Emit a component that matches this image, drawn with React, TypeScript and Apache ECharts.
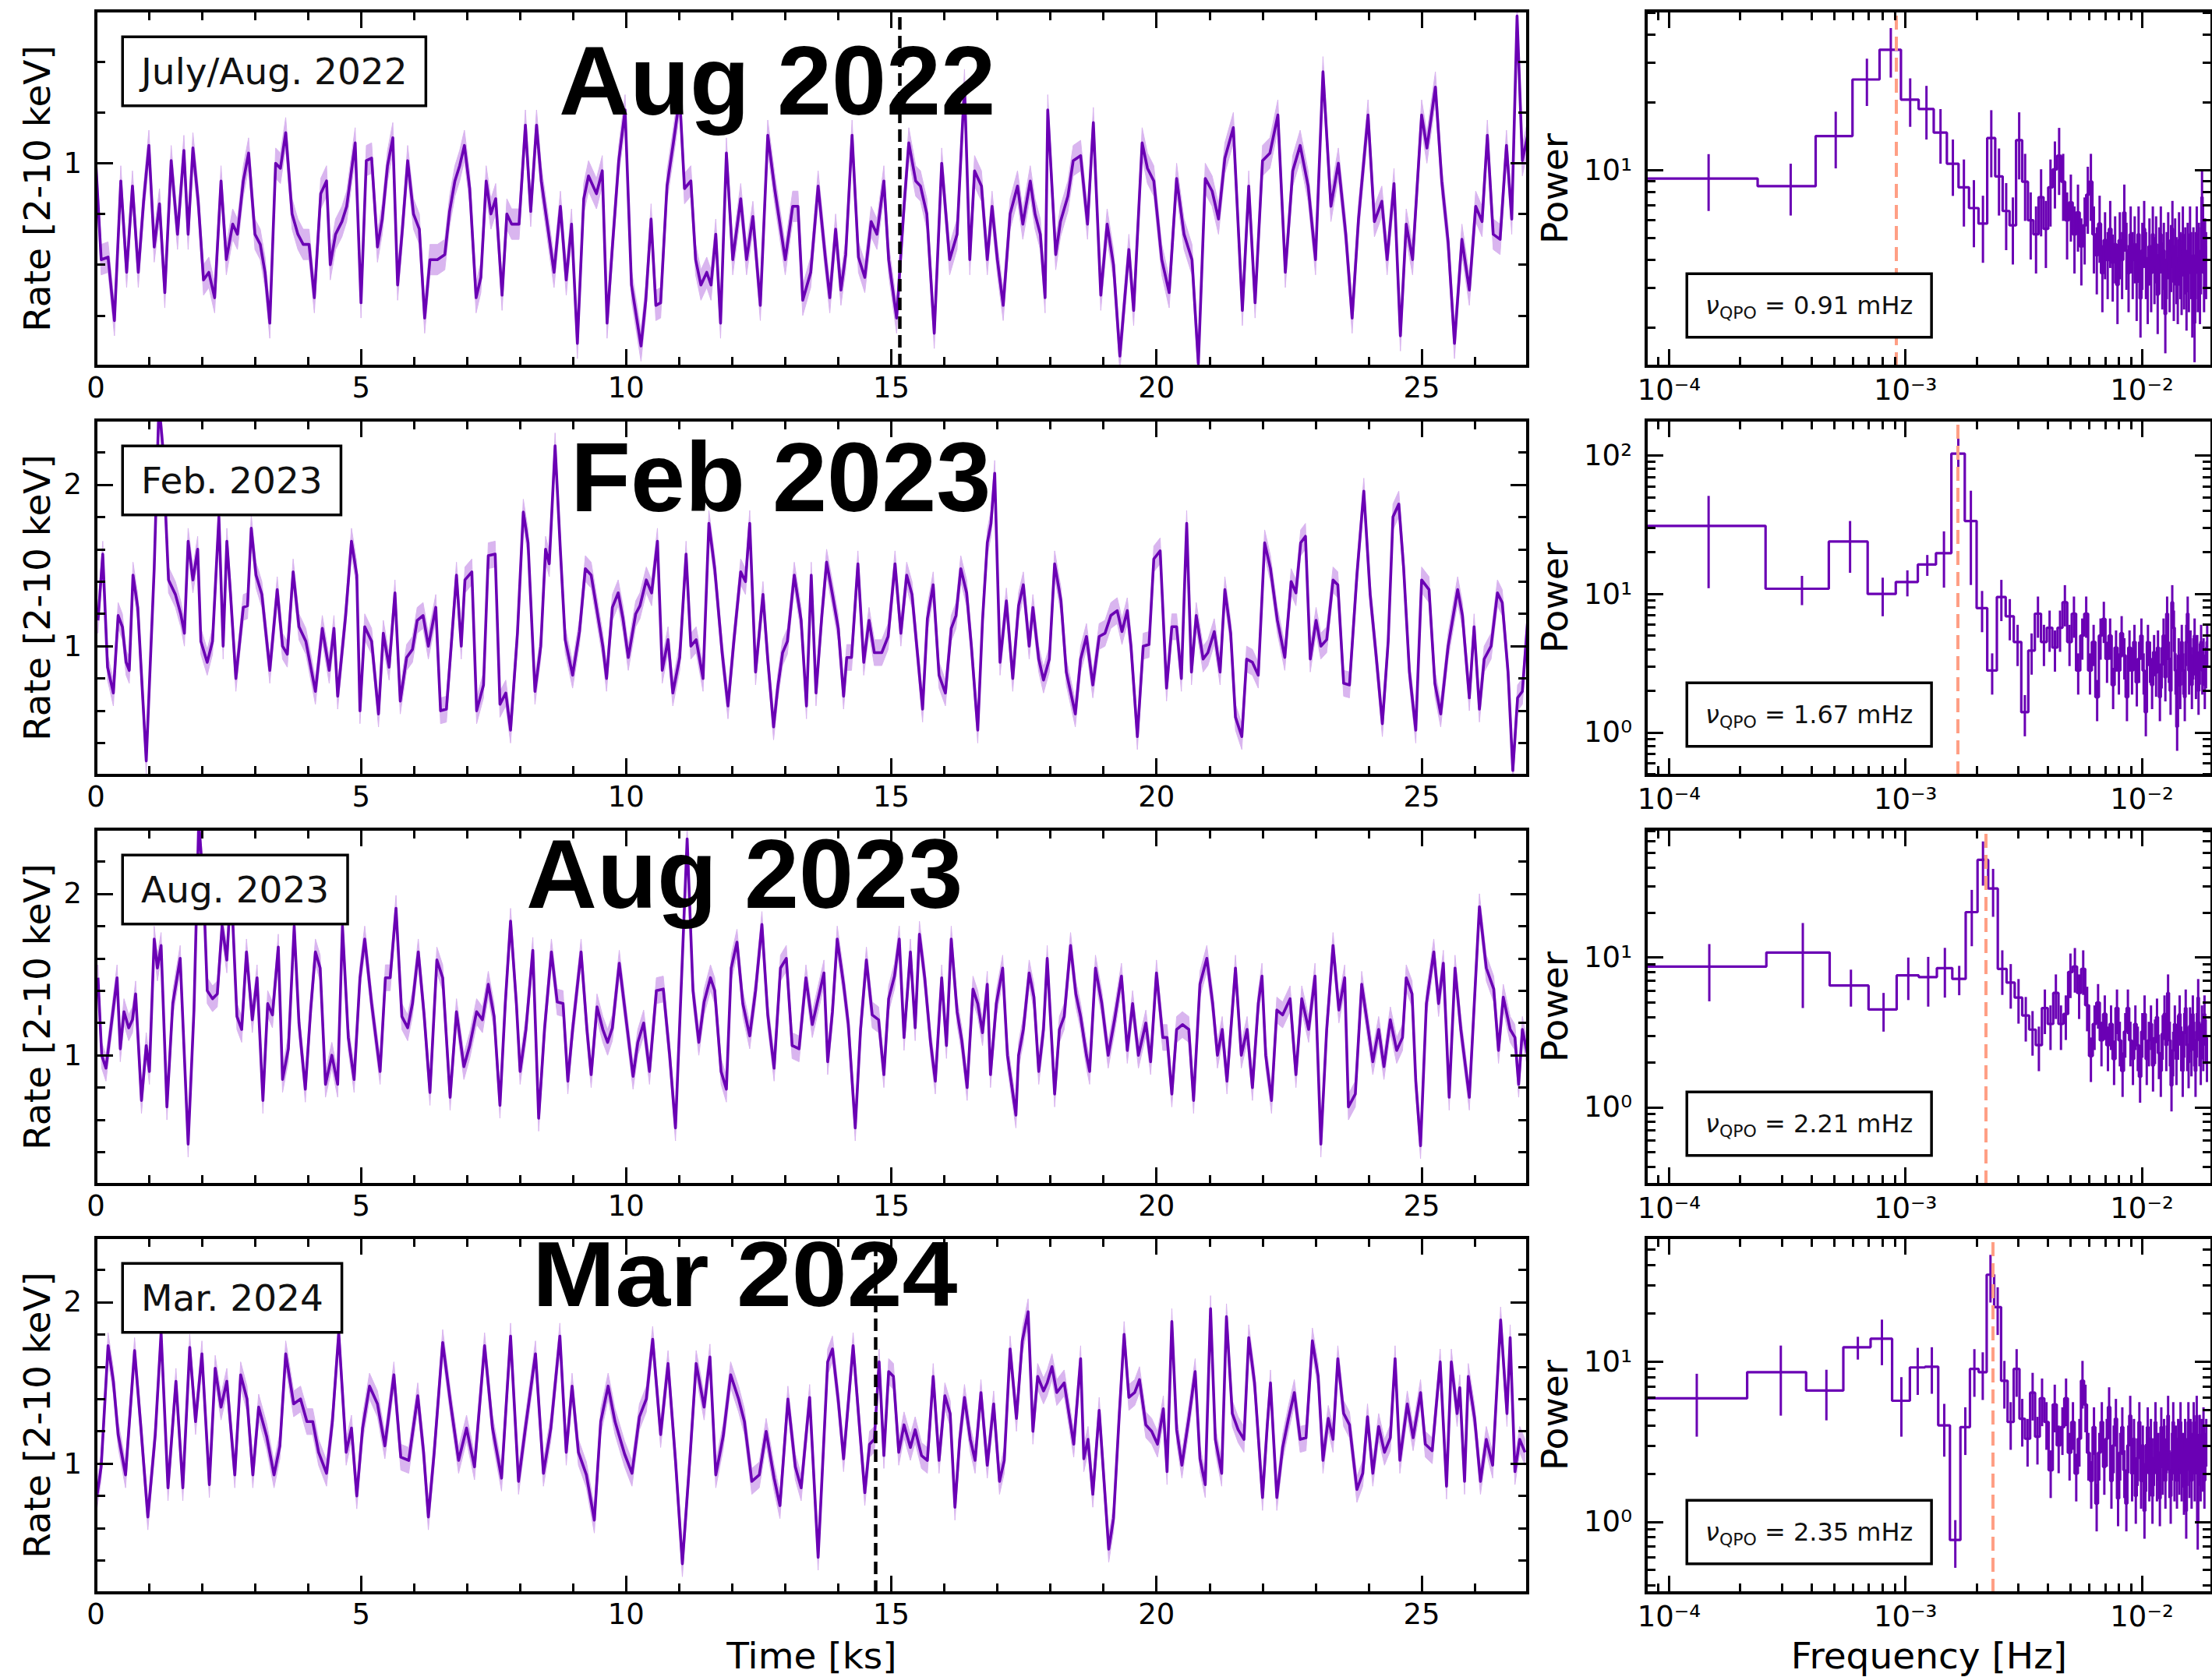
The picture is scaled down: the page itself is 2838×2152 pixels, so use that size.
import React, { useEffect, useRef } from "react";
import * as echarts from "echarts";

// ---------------- light curves: [time (ks), 2-10 keV rate] ----------------
const lcJul2022: number[][] = [
  [0, 1.0], [0.1, 0.62], [0.23, 0.63], [0.35, 0.38], [0.47, 0.93], [0.58, 0.57], [0.69, 0.91], [0.8, 0.57], [0.9, 0.85], [1.0, 1.07],
  [1.1, 0.67], [1.2, 0.84], [1.3, 0.49], [1.42, 1.01], [1.54, 0.72], [1.66, 1.05], [1.74, 0.72], [1.83, 1.06], [1.93, 0.85], [2.03, 0.54],
  [2.13, 0.57], [2.24, 0.47], [2.36, 0.93], [2.46, 0.62], [2.58, 0.76], [2.67, 0.72], [2.78, 0.93], [2.88, 1.04], [3.0, 0.72], [3.1, 0.68],
  [3.19, 0.57], [3.28, 0.37], [3.39, 1.0], [3.48, 0.98], [3.58, 1.12], [3.7, 0.8], [3.81, 0.72], [3.91, 0.68], [4.02, 0.68], [4.12, 0.47],
  [4.24, 0.88], [4.35, 0.93], [4.42, 0.6], [4.52, 0.72], [4.64, 0.77], [4.73, 0.83], [4.89, 1.08], [5.0, 0.45], [5.1, 1.01], [5.2, 1.02],
  [5.31, 0.67], [5.4, 0.78], [5.5, 0.99], [5.6, 1.1], [5.69, 0.52], [5.78, 0.74], [5.88, 1.01], [5.99, 0.8], [6.1, 0.74], [6.2, 0.39],
  [6.3, 0.62], [6.44, 0.62], [6.58, 0.64], [6.67, 0.81], [6.77, 0.93], [6.86, 0.99], [6.95, 1.07], [7.05, 0.9], [7.17, 0.47], [7.26, 0.55],
  [7.36, 0.93], [7.45, 0.8], [7.54, 0.86], [7.66, 0.48], [7.75, 0.8], [7.84, 0.76], [7.98, 0.76], [8.1, 1.15], [8.2, 0.81], [8.31, 1.15],
  [8.4, 0.93], [8.5, 0.78], [8.64, 0.57], [8.76, 0.83], [8.87, 0.54], [8.97, 0.76], [9.08, 0.29], [9.2, 0.86], [9.29, 0.95], [9.44, 0.88],
  [9.55, 0.97], [9.64, 0.37], [9.74, 0.67], [9.86, 1.01], [9.98, 1.21], [10.1, 0.52], [10.28, 0.28], [10.37, 0.46], [10.47, 0.78], [10.56, 0.44],
  [10.65, 0.45], [10.77, 0.91], [10.89, 1.08], [11.01, 1.26], [11.1, 0.9], [11.22, 0.93], [11.31, 0.62], [11.41, 0.52], [11.52, 0.57], [11.6, 0.52],
  [11.69, 0.72], [11.78, 0.37], [11.89, 1.04], [12.01, 0.62], [12.16, 0.86], [12.27, 0.62], [12.39, 0.79], [12.53, 0.44], [12.67, 1.11], [12.8, 0.9],
  [13.0, 0.62], [13.14, 0.83], [13.24, 0.83], [13.33, 0.46], [13.48, 0.57], [13.62, 0.91], [13.76, 0.62], [13.84, 0.47], [13.95, 0.74], [14.05, 0.5],
  [14.14, 0.64], [14.26, 1.11], [14.38, 0.63], [14.5, 0.55], [14.62, 0.77], [14.73, 0.72], [14.86, 0.93], [14.95, 0.62], [15.1, 0.39], [15.24, 0.83],
  [15.33, 1.08], [15.46, 0.93], [15.55, 0.91], [15.67, 0.8], [15.81, 0.33], [15.95, 1.0], [16.1, 0.62], [16.24, 0.72], [16.38, 1.31], [16.48, 0.62],
  [16.57, 0.97], [16.7, 0.91], [16.81, 0.62], [16.9, 0.83], [17.0, 0.62], [17.11, 0.44], [17.24, 0.8], [17.38, 0.91], [17.48, 0.76], [17.62, 0.93],
  [17.71, 0.8], [17.81, 0.72], [17.9, 0.47], [17.95, 1.21], [18.1, 0.64], [18.19, 0.77], [18.33, 0.87], [18.43, 1.01], [18.57, 1.03], [18.7, 0.76],
  [18.81, 1.16], [18.95, 0.48], [19.07, 0.76], [19.19, 0.6], [19.31, 0.24], [19.48, 0.66], [19.57, 0.42], [19.73, 1.08], [19.83, 0.98], [19.95, 0.93],
  [20.1, 0.62], [20.24, 0.49], [20.38, 0.94], [20.52, 0.72], [20.67, 0.62], [20.79, 0.21], [20.92, 0.94], [21.05, 0.89], [21.17, 0.78], [21.29, 1.02],
  [21.45, 1.14], [21.62, 0.42], [21.74, 0.91], [21.86, 0.45], [22.0, 1.01], [22.14, 1.04], [22.29, 1.19], [22.43, 0.57], [22.57, 0.97], [22.71, 1.07],
  [22.86, 0.91], [23.0, 0.62], [23.14, 1.36], [23.29, 0.83], [23.43, 1.0], [23.57, 0.72], [23.69, 0.39], [23.81, 0.78], [23.99, 1.19], [24.11, 0.77],
  [24.25, 0.85], [24.35, 0.62], [24.48, 0.92], [24.6, 0.32], [24.71, 0.76], [24.83, 0.62], [25.0, 1.19], [25.1, 1.06], [25.26, 1.3], [25.38, 0.93],
  [25.5, 0.69], [25.62, 0.29], [25.76, 0.7], [25.9, 0.5], [26.02, 0.83], [26.14, 0.77], [26.24, 1.11], [26.35, 0.72], [26.48, 0.7], [26.6, 1.07],
  [26.7, 0.78], [26.8, 1.58], [26.9, 1.01], [27.0, 1.11],
];

const lcFeb2023: number[][] = [
  [0.04, 1.16], [0.13, 1.57], [0.22, 0.87], [0.33, 0.71], [0.42, 1.19], [0.5, 1.12], [0.57, 0.9], [0.63, 0.85], [0.7, 1.44], [0.79, 1.24],
  [0.95, 0.29], [1.1, 1.48], [1.19, 2.5], [1.26, 2.24], [1.37, 1.41], [1.5, 1.32], [1.6, 1.2], [1.67, 1.08], [1.74, 1.65], [1.83, 1.41],
  [1.92, 1.6], [1.98, 1.03], [2.1, 0.9], [2.2, 1.03], [2.32, 1.8], [2.4, 1.0], [2.47, 1.65], [2.54, 1.32], [2.64, 0.8], [2.78, 1.24],
  [2.86, 1.25], [2.93, 1.73], [3.02, 1.44], [3.13, 1.32], [3.28, 0.85], [3.42, 1.35], [3.52, 1.0], [3.61, 0.95], [3.72, 1.46], [3.83, 1.12],
  [3.96, 1.03], [4.14, 0.72], [4.27, 1.11], [4.4, 0.85], [4.49, 1.11], [4.56, 0.69], [4.71, 1.19], [4.82, 1.65], [4.92, 1.44], [4.98, 0.6],
  [5.07, 1.12], [5.2, 1.03], [5.33, 0.58], [5.42, 1.08], [5.53, 0.87], [5.64, 1.33], [5.74, 0.66], [5.86, 0.93], [5.97, 0.98], [6.06, 1.16],
  [6.17, 1.19], [6.27, 1.0], [6.41, 1.24], [6.5, 0.6], [6.61, 0.61], [6.7, 1.0], [6.8, 1.44], [6.89, 1.0], [6.96, 1.41], [7.09, 1.46],
  [7.18, 0.6], [7.31, 0.76], [7.4, 1.56], [7.53, 1.57], [7.62, 0.64], [7.73, 0.71], [7.82, 0.48], [7.95, 1.08], [8.06, 1.83], [8.15, 1.64],
  [8.28, 0.72], [8.39, 1.0], [8.48, 1.6], [8.55, 1.51], [8.66, 2.24], [8.76, 1.59], [8.85, 1.04], [8.99, 0.82], [9.12, 1.09], [9.23, 1.48],
  [9.34, 1.44], [9.44, 1.24], [9.56, 1.0], [9.63, 0.8], [9.74, 1.24], [9.85, 1.33], [9.94, 1.17], [10.04, 0.93], [10.18, 1.2], [10.26, 1.25],
  [10.38, 1.41], [10.48, 1.33], [10.59, 1.65], [10.68, 0.85], [10.79, 1.04], [10.88, 0.71], [11.01, 0.93], [11.13, 1.57], [11.22, 1.0], [11.32, 1.04],
  [11.45, 0.8], [11.56, 1.76], [11.67, 1.48], [11.81, 0.96], [11.92, 0.63], [12.03, 1.03], [12.16, 1.46], [12.25, 1.4], [12.33, 1.76], [12.44, 0.84],
  [12.58, 1.32], [12.67, 0.92], [12.78, 0.5], [12.86, 0.75], [12.95, 0.96], [13.04, 1.03], [13.17, 1.44], [13.3, 1.16], [13.4, 0.63], [13.49, 1.44],
  [13.58, 0.71], [13.69, 1.19], [13.78, 1.52], [13.89, 1.32], [14.0, 1.11], [14.1, 0.69], [14.16, 0.93], [14.25, 0.93], [14.37, 1.51], [14.48, 0.9],
  [14.58, 1.16], [14.68, 0.96], [14.82, 0.96], [14.94, 1.06], [15.07, 1.51], [15.18, 1.08], [15.29, 1.44], [15.39, 1.32], [15.48, 1.0], [15.59, 0.61],
  [15.68, 1.17], [15.79, 1.38], [15.9, 0.82], [16.02, 0.71], [16.13, 1.11], [16.22, 1.19], [16.31, 1.48], [16.42, 1.33], [16.51, 1.0], [16.63, 0.48],
  [16.72, 1.16], [16.81, 1.64], [16.88, 1.76], [16.95, 2.07], [17.05, 0.9], [17.17, 1.28], [17.29, 0.8], [17.4, 1.25], [17.49, 1.38], [17.6, 1.0],
  [17.67, 1.24], [17.78, 0.92], [17.87, 0.79], [17.98, 0.92], [18.08, 1.51], [18.2, 1.28], [18.3, 0.84], [18.47, 0.58], [18.57, 0.92], [18.68, 1.06],
  [18.8, 0.76], [18.92, 1.06], [19.03, 1.08], [19.14, 1.19], [19.26, 1.22], [19.35, 1.09], [19.45, 1.22], [19.52, 1.0], [19.64, 0.44], [19.75, 1.0],
  [19.86, 1.01], [19.95, 1.54], [20.07, 1.59], [20.19, 0.74], [20.29, 1.12], [20.38, 1.12], [20.47, 0.8], [20.57, 1.76], [20.66, 0.84], [20.75, 1.19],
  [20.88, 0.92], [20.97, 0.96], [21.09, 1.09], [21.2, 0.84], [21.29, 1.35], [21.4, 1.08], [21.49, 0.56], [21.61, 0.44], [21.7, 0.92], [21.81, 0.9],
  [21.92, 0.82], [22.04, 1.64], [22.15, 1.48], [22.28, 1.16], [22.42, 0.93], [22.54, 1.4], [22.63, 1.33], [22.72, 1.64], [22.81, 1.68], [22.9, 0.92],
  [23.01, 1.16], [23.1, 1.0], [23.21, 1.04], [23.33, 1.41], [23.42, 1.38], [23.53, 0.77], [23.64, 0.76], [23.78, 1.44], [23.91, 1.96], [24.03, 1.32],
  [24.14, 0.95], [24.26, 0.52], [24.37, 1.03], [24.46, 1.8], [24.57, 1.88], [24.66, 1.49], [24.77, 0.84], [24.89, 0.48], [25.0, 1.41], [25.14, 1.35],
  [25.25, 0.77], [25.36, 0.58], [25.5, 1.0], [25.68, 1.35], [25.77, 1.19], [25.9, 0.68], [25.99, 1.12], [26.09, 0.61], [26.18, 0.92], [26.31, 1.0],
  [26.43, 1.33], [26.52, 1.27], [26.63, 0.84], [26.72, 0.23], [26.81, 0.68], [26.9, 0.72], [27.0, 1.16],
];

const lcAug2023: number[][] = [
  [0.04, 1.48], [0.11, 1.0], [0.19, 0.92], [0.28, 1.16], [0.4, 1.48], [0.46, 1.04], [0.53, 1.27], [0.62, 1.17], [0.69, 1.22], [0.75, 1.38],
  [0.86, 0.72], [0.95, 1.06], [1.01, 0.9], [1.1, 1.72], [1.16, 1.54], [1.23, 1.68], [1.34, 0.68], [1.45, 1.32], [1.59, 1.6], [1.74, 0.45],
  [1.85, 1.28], [1.94, 2.45], [2.03, 2.04], [2.1, 1.4], [2.2, 1.35], [2.29, 1.38], [2.38, 1.8], [2.47, 1.59], [2.55, 2.07], [2.66, 1.24],
  [2.75, 1.16], [2.84, 1.64], [2.95, 1.22], [3.04, 1.48], [3.15, 0.72], [3.24, 1.32], [3.33, 1.25], [3.44, 1.67], [3.52, 0.85], [3.63, 1.04],
  [3.74, 1.8], [3.83, 1.2], [3.95, 0.79], [4.05, 1.28], [4.14, 1.64], [4.23, 1.54], [4.33, 0.82], [4.45, 1.0], [4.56, 0.82], [4.65, 1.8],
  [4.76, 1.11], [4.87, 0.85], [4.98, 1.48], [5.07, 1.72], [5.2, 1.32], [5.36, 0.9], [5.46, 1.48], [5.55, 1.48], [5.66, 1.91], [5.77, 1.24],
  [5.88, 1.17], [5.97, 1.32], [6.08, 1.64], [6.19, 1.25], [6.3, 0.77], [6.43, 1.59], [6.54, 1.48], [6.68, 0.74], [6.8, 1.27], [6.94, 0.93],
  [7.05, 1.06], [7.18, 1.27], [7.29, 1.22], [7.4, 1.44], [7.51, 1.24], [7.62, 0.69], [7.72, 1.32], [7.82, 1.83], [7.93, 1.32], [8.0, 0.9],
  [8.11, 1.16], [8.24, 1.65], [8.35, 0.61], [8.46, 1.16], [8.59, 1.64], [8.7, 1.33], [8.81, 1.32], [8.9, 0.84], [8.99, 1.16], [9.15, 1.64],
  [9.26, 1.16], [9.34, 0.88], [9.45, 1.3], [9.56, 1.16], [9.65, 1.08], [9.74, 1.17], [9.87, 1.57], [9.97, 1.3], [10.13, 0.87], [10.22, 1.08],
  [10.33, 1.2], [10.44, 0.9], [10.57, 1.4], [10.7, 1.41], [10.82, 1.0], [10.93, 0.55], [11.04, 1.44], [11.15, 2.34], [11.26, 1.4], [11.37, 1.08],
  [11.47, 1.33], [11.59, 1.48], [11.67, 1.4], [11.79, 0.9], [11.89, 0.79], [11.98, 1.54], [12.09, 1.7], [12.2, 1.32], [12.33, 1.12], [12.44, 1.4],
  [12.56, 1.81], [12.67, 1.25], [12.79, 0.92], [12.91, 1.54], [13.02, 1.6], [13.13, 1.06], [13.26, 1.04], [13.39, 1.48], [13.51, 1.19], [13.6, 1.32],
  [13.73, 1.51], [13.8, 0.96], [13.89, 1.27], [13.98, 1.72], [14.1, 1.44], [14.19, 1.19], [14.32, 0.55], [14.42, 1.16], [14.53, 1.59], [14.64, 1.25],
  [14.76, 1.22], [14.86, 0.88], [14.95, 1.35], [15.06, 1.49], [15.15, 1.72], [15.24, 1.11], [15.36, 1.64], [15.45, 1.17], [15.53, 1.75], [15.63, 1.48],
  [15.74, 1.08], [15.83, 0.84], [15.95, 1.48], [16.04, 1.06], [16.13, 1.72], [16.24, 1.27], [16.33, 1.09], [16.43, 0.8], [16.54, 1.41], [16.63, 1.32],
  [16.72, 1.14], [16.81, 1.44], [16.87, 0.88], [16.98, 1.32], [17.1, 1.54], [17.19, 1.0], [17.35, 0.63], [17.4, 1.0], [17.49, 1.16], [17.6, 1.51],
  [17.69, 1.36], [17.78, 0.9], [17.87, 1.16], [17.94, 1.6], [18.08, 0.76], [18.17, 1.16], [18.26, 1.24], [18.38, 1.68], [18.48, 1.38], [18.57, 1.24],
  [18.68, 1.0], [18.74, 0.9], [18.85, 1.54], [18.97, 1.32], [19.09, 1.0], [19.21, 1.22], [19.34, 1.49], [19.45, 1.03], [19.55, 1.32], [19.66, 1.0],
  [19.8, 1.2], [19.89, 0.96], [20.0, 1.51], [20.12, 1.11], [20.2, 1.11], [20.29, 0.76], [20.38, 1.16], [20.49, 1.19], [20.61, 1.16], [20.7, 0.72],
  [20.82, 1.44], [20.95, 1.6], [21.06, 1.32], [21.15, 1.0], [21.24, 1.16], [21.33, 0.84], [21.49, 1.54], [21.6, 1.0], [21.71, 1.16], [21.81, 0.8],
  [21.92, 1.32], [21.99, 1.49], [22.06, 1.0], [22.17, 0.72], [22.27, 1.28], [22.38, 1.25], [22.52, 1.35], [22.63, 0.88], [22.74, 1.35], [22.87, 1.16],
  [22.99, 1.49], [23.1, 0.45], [23.21, 1.16], [23.33, 1.68], [23.44, 1.28], [23.55, 1.48], [23.62, 0.68], [23.75, 0.76], [23.87, 1.44], [23.98, 1.19],
  [24.08, 0.96], [24.19, 1.16], [24.29, 0.93], [24.41, 1.22], [24.53, 1.03], [24.64, 1.11], [24.71, 1.48], [24.82, 1.38], [24.89, 0.84], [24.98, 0.44],
  [25.09, 1.32], [25.23, 1.64], [25.32, 1.32], [25.41, 1.57], [25.52, 0.74], [25.63, 1.54], [25.74, 1.16], [25.9, 0.74], [26.09, 1.92], [26.22, 1.54],
  [26.36, 1.41], [26.45, 1.03], [26.54, 1.36], [26.67, 1.16], [26.76, 1.11], [26.83, 0.82], [26.9, 1.16], [27.0, 1.0],
];

const lcMar2024: number[][] = [
  [0.02, 0.8], [0.1, 0.98], [0.23, 1.73], [0.33, 1.51], [0.42, 1.18], [0.56, 0.93], [0.73, 1.7], [0.85, 1.22], [0.98, 0.67], [1.12, 1.18],
  [1.23, 1.81], [1.36, 0.85], [1.51, 1.51], [1.64, 0.85], [1.77, 1.72], [1.88, 1.26], [2.0, 1.68], [2.14, 0.87], [2.25, 1.59], [2.36, 1.35],
  [2.47, 1.51], [2.62, 0.93], [2.73, 1.55], [2.85, 1.4], [2.96, 0.93], [3.07, 1.35], [3.22, 1.17], [3.36, 0.93], [3.47, 1.11], [3.58, 1.68],
  [3.73, 1.37], [3.86, 1.4], [3.98, 1.26], [4.09, 1.26], [4.2, 1.07], [4.35, 0.94], [4.46, 1.26], [4.58, 1.81], [4.72, 1.07], [4.82, 1.22],
  [4.92, 0.8], [5.03, 1.22], [5.16, 1.48], [5.31, 1.37], [5.45, 1.11], [5.62, 1.55], [5.75, 1.04], [5.9, 1.02], [6.07, 1.42], [6.18, 1.07],
  [6.27, 0.67], [6.38, 1.07], [6.54, 1.75], [6.69, 1.37], [6.84, 1.02], [6.99, 1.22], [7.14, 0.98], [7.33, 1.73], [7.48, 1.22], [7.65, 0.91],
  [7.82, 1.79], [7.97, 0.89], [8.1, 1.22], [8.29, 1.68], [8.44, 0.94], [8.58, 1.22], [8.75, 1.79], [8.87, 1.07], [8.98, 1.48], [9.1, 1.07],
  [9.25, 0.93], [9.4, 0.65], [9.52, 1.26], [9.66, 1.48], [9.79, 1.26], [9.97, 1.06], [10.11, 0.94], [10.25, 1.29], [10.38, 1.4], [10.5, 1.77],
  [10.65, 1.18], [10.79, 1.62], [10.93, 1.02], [11.06, 0.38], [11.21, 1.07], [11.32, 1.62], [11.47, 1.35], [11.58, 1.66], [11.69, 0.93], [11.83, 1.17],
  [11.97, 1.55], [12.12, 1.4], [12.23, 1.26], [12.37, 0.89], [12.51, 0.93], [12.64, 1.2], [12.79, 0.91], [12.9, 0.74], [13.05, 1.4], [13.19, 0.98],
  [13.3, 0.85], [13.46, 1.41], [13.62, 0.42], [13.8, 1.63], [13.89, 1.71], [14.0, 1.39], [14.1, 1.03], [14.28, 1.73], [14.38, 1.31], [14.5, 0.82],
  [14.59, 1.12], [14.68, 1.15], [14.77, 1.63], [14.86, 1.05], [14.95, 1.57], [15.04, 1.54], [15.14, 1.07], [15.24, 1.24], [15.36, 1.1], [15.45, 1.21],
  [15.57, 1.05], [15.68, 1.02], [15.79, 1.54], [15.9, 1.02], [16.01, 1.42], [16.11, 1.31], [16.2, 0.73], [16.29, 1.15], [16.38, 1.41], [16.49, 1.15],
  [16.58, 1.02], [16.69, 1.44], [16.81, 0.99], [16.93, 1.37], [17.04, 0.89], [17.13, 1.02], [17.24, 1.71], [17.36, 1.28], [17.47, 1.76], [17.58, 1.94],
  [17.67, 1.2], [17.76, 1.54], [17.87, 1.45], [17.94, 1.5], [18.03, 1.6], [18.12, 1.44], [18.26, 1.5], [18.35, 1.31], [18.44, 1.12], [18.57, 1.65],
  [18.63, 1.03], [18.71, 1.15], [18.8, 0.81], [18.92, 1.33], [19.1, 0.47], [19.19, 0.66], [19.3, 1.31], [19.39, 1.8], [19.48, 1.41], [19.59, 1.44],
  [19.68, 1.52], [19.8, 1.24], [19.91, 1.2], [20.02, 1.12], [20.13, 1.34], [20.2, 0.95], [20.29, 1.88], [20.38, 1.21], [20.48, 0.99], [20.61, 1.28],
  [20.73, 1.57], [20.82, 1.03], [20.92, 0.87], [21.02, 1.96], [21.11, 1.15], [21.23, 0.94], [21.32, 1.91], [21.43, 1.31], [21.54, 1.21], [21.65, 1.15],
  [21.74, 1.78], [21.85, 1.5], [22.0, 0.79], [22.09, 1.24], [22.15, 1.5], [22.27, 0.79], [22.38, 1.1], [22.49, 1.28], [22.6, 1.44], [22.71, 1.15],
  [22.82, 1.16], [22.94, 1.76], [23.05, 1.54], [23.14, 1.02], [23.24, 1.28], [23.33, 1.15], [23.42, 1.65], [23.53, 1.31], [23.64, 1.24], [23.78, 0.84],
  [23.89, 0.94], [23.98, 1.29], [24.08, 0.94], [24.19, 1.23], [24.3, 1.07], [24.41, 1.16], [24.5, 1.65], [24.59, 1.02], [24.73, 1.37], [24.84, 1.16],
  [24.98, 1.44], [25.07, 1.12], [25.2, 1.08], [25.35, 1.63], [25.47, 0.86], [25.56, 1.63], [25.67, 1.31], [25.72, 1.47], [25.81, 0.89], [25.88, 1.54],
  [26.0, 1.28], [26.11, 0.89], [26.22, 1.15], [26.34, 0.99], [26.49, 1.89], [26.61, 1.31], [26.67, 1.78], [26.76, 0.95], [26.85, 1.15], [26.95, 1.07],
];

const lightCurves = [lcJul2022, lcFeb2023, lcAug2023, lcMar2024];
// typical 1-sigma uncertainty on the count rate, per epoch
const rateErrors = [0.06, 0.08, 0.08, 0.08];

const epochNames = ["July/Aug. 2022", "Feb. 2023", "Aug. 2023", "Mar. 2024"];
const headlines = ["Aug 2022", "Feb 2023", "Aug 2023", "Mar 2024"];
const rateMax = [1.6, 2.4, 2.4, 2.4];
const RATE_MIN = 0.2;
const TIME_MAX = 27;
const cutTimes: (number | null)[] = [15.15, null, null, 14.7];

// ---------------- power spectra ----------------
const psdStartHz = [1.47e-4, 1.47e-4, 1.48e-4, 1.31e-4];
const psdStepHz = [1.8e-4, 2.18e-4, 2.2e-4, 1.66e-4];

const powJul2022 = [
  9.2, 8.5, 14.2, 25.3, 34.3, 20.6, 18.7, 14.7, 10.7, 8.4,
  6.8, 5.8, 13.9, 9.4, 6.6, 5.7, 13.6, 8.9, 6.0, 5.2,
  7.6, 5.5, 8.4, 10.1, 11.6, 8.9, 6.0, 7.2, 5.2, 6.5,
  4.6, 5.7, 7.8, 8.9, 5.2, 4.2, 5.8, 3.5, 4.9, 4.0,
  5.5, 3.9, 4.7, 3.1, 4.9, 4.0, 6.5, 4.4, 3.5, 5.2,
  4.0, 4.7, 3.2, 5.2, 2.7, 4.4, 5.5, 4.0, 3.1, 4.6,
  3.5, 5.2, 3.8, 4.7, 2.8, 4.2, 5.2, 3.6, 4.4, 2.3,
  4.0, 4.9, 3.5, 4.3, 5.5, 3.2, 4.6, 3.8, 3.1, 4.9,
  4.0, 3.4, 5.2, 3.6, 4.2, 2.9, 4.4, 3.5, 5.2, 4.0,
  2.7, 4.2, 2.1, 4.0, 5.2, 3.5, 4.4, 3.1, 4.2, 7.6,
  5.2, 3.5, 4.6, 4.0,
];
const powFeb2023 = [
  31, 10.9, 23.9, 10.0, 12.2, 16.3, 19.7, 103, 33.6, 7.9,
  2.8, 9.5, 6.9, 4.5, 1.4, 3.9, 7.2, 4.5, 5.7, 4.1,
  5.7, 8.7, 4.5, 7.2, 2.8, 5.0, 7.2, 2.8, 4.5, 1.8,
  5.0, 6.6, 3.4, 5.0, 2.2, 4.1, 2.8, 5.2, 3.6, 1.8,
  4.1, 2.8, 4.5, 2.3, 3.4, 5.0, 2.8, 1.4, 4.5, 3.4,
  2.2, 3.8, 2.7, 4.1, 1.8, 3.1, 5.0, 2.5, 7.2, 3.4,
  2.0, 8.7, 5.7, 2.8, 1.1, 3.6, 2.2, 4.5, 2.8, 1.8,
  4.5, 7.2, 2.8, 4.1, 2.2, 3.6, 5.0, 2.6, 3.8, 2.0,
  3.3, 4.5, 2.8, 3.6, 2.2, 3.1, 4.5,
];
const powAug2023 = [
  8.7, 10.8, 6.5, 4.5, 7.6, 7.4, 8.5, 7.2, 20.1, 44.9,
  28.9, 8.4, 6.8, 5.4, 4.1, 3.3, 2.6, 4.6, 3.6, 5.8,
  3.6, 4.2, 8.0, 8.7, 5.8, 8.4, 4.8, 2.2, 3.6, 5.0,
  2.8, 4.2, 2.6, 3.6, 2.1, 4.6, 2.8, 1.75, 3.2, 4.6,
  2.8, 2.1, 3.6, 2.6, 1.6, 3.2, 4.2, 2.1, 2.8, 3.6,
  1.9, 2.9, 4.0, 2.3, 1.75, 3.1, 4.2, 2.6, 5.8, 2.8,
  1.4, 2.4, 3.6, 2.1, 3.1, 4.2, 2.6, 1.75, 3.2, 4.6,
  2.6, 2.0, 3.5, 2.4, 4.2, 2.8, 1.75, 3.2, 5.4, 2.8,
  2.1, 3.6, 2.6, 4.2, 2.9, 2.2,
];
const powMar2024 = [
  5.9, 8.6, 6.6, 12.3, 13.9, 5.7, 9.2, 9.3, 4.0, 0.77,
  3.9, 9.0, 8.6, 34.9, 21.9, 7.6, 4.2, 9.0, 4.4, 3.3,
  6.4, 3.4, 5.9, 4.2, 2.1, 5.4, 3.0, 3.9, 5.9, 2.7,
  4.2, 2.0, 3.3, 7.6, 5.4, 2.7, 1.8, 3.9, 1.3, 2.7,
  4.2, 2.2, 3.3, 5.2, 1.8, 3.0, 4.4, 1.4, 2.7, 3.9,
  2.1, 1.3, 3.0, 4.6, 2.0, 3.3, 1.45, 2.5, 4.2, 1.8,
  3.0, 1.17, 2.3, 3.9, 2.0, 3.3, 1.45, 2.5, 4.2, 2.0,
  2.7, 1.4, 3.9, 2.2, 3.3, 1.8, 3.0, 4.6, 2.1, 1.45,
  2.7, 4.2, 2.0, 3.0, 1.8, 3.3, 2.2, 4.2, 2.0, 2.7,
  1.65, 3.3, 1.17, 2.5, 4.2, 2.1, 3.3, 1.8, 2.7, 4.2,
  2.0, 3.0, 4.6, 1.0, 2.5, 3.5, 2.0, 3.3, 2.3, 3.9,
  1.8, 2.7, 3.3,
];
const powers = [powJul2022, powFeb2023, powAug2023, powMar2024];

// error bars of the lowest-frequency bins; the remaining bins use PSD_REL_ERR
const powErrJul2022 = [2.6, 2.2, 4.0, 6.0, 8.5, 5.0, 5.0, 4.0, 3.0];
const powErrFeb2023 = [20, 2.6, 9.7, 3.1, 2.6, 2.8, 8.6, 34, 22];
const powErrAug2023 = [3.6, 6.2, 1.8, 1.3, 2.4, 2.7, 3.1, 1.6, 8.2, 14.7, 10.2];
const powErrMar2024 = [2.5, 4.0, 2.3, 2.0, 4.4, 2.3, 3.0, 3.0, 1.45];
const powerErrors = [powErrJul2022, powErrFeb2023, powErrAug2023, powErrMar2024];
const PSD_REL_ERR = 0.33;

const qpoMHz = [0.91, 1.67, 2.21, 2.35];
const powerMin = [1.35, 0.49, 0.305, 0.36];
const powerMax = [51, 180, 72, 59.6];
const FREQ_MIN = 8.0e-5;
const FREQ_MAX = 0.0198;

// ---------------- layout ----------------
const W = 2838;
const H = 2152;
const PANEL_TOP = [14, 539, 1064, 1588];
const PANEL_H = 456;
const LC_LEFT = 123;
const LC_W = 1837;
const PSD_LEFT = 2112;
const PSD_W = 734;
const HEAD_X = [717, 732, 675, 683];
const HEAD_BASELINE = [147, 656, 1165, 1676];
// the last headline sits right under the panel above, so it is set a little
// smaller and widened back to the same length
const HEAD_SIZE = [126, 126, 126, 118];
const HEAD_STRETCH = [1, 1, 1, 1.08];

const FONT = "'DejaVu Sans', 'Noto Sans', sans-serif";
const BOLD_FONT = "'Liberation Sans', Arial, Helvetica, sans-serif";
const PURPLE = "#6a00b4";
const BAND = "#d9b5ef";
const QPO_COLOR = "#ff9f85";

const SUP: Record<string, string> = {
  "0": "\u2070", "1": "\u00b9", "2": "\u00b2", "3": "\u00b3", "4": "\u2074",
  "5": "\u2075", "6": "\u2076", "7": "\u2077", "8": "\u2078", "9": "\u2079", "-": "\u207b",
};
const pow10Label = (v: number) => "10" + String(Math.round(v)).replace(/[-0-9]/g, (c) => SUP[c]);

function logTicks(min: number, max: number) {
  const major: number[] = [];
  const minor: number[] = [];
  for (let n = Math.floor(min); n <= Math.ceil(max); n++) {
    if (n >= min - 1e-9 && n <= max + 1e-9) major.push(n);
    for (let k = 2; k <= 9; k++) {
      const v = n + Math.log10(k);
      if (v > min && v < max) minor.push(v);
    }
  }
  return { major, minor };
}

const nameStyle = { fontSize: 47, fontFamily: FONT, color: "#000" };

function addAxes(
  list: any[], kind: "x" | "y", gridIndex: number, min: number, max: number,
  majors: number[], minors: number[], fmt: (v: number) => string, nameCfg: any, labelMargin: number,
) {
  const sides = kind === "x" ? ["bottom", "top"] : ["left", "right"];
  const first = list.length;
  sides.forEach((pos, si) => {
    list.push({
      type: "value", gridIndex, min, max, position: pos, z: 5,
      axisLine: { show: true, onZero: false, lineStyle: { color: "#000", width: 4, cap: "square" } },
      axisTick: { show: true, inside: true, length: 22, customValues: majors, lineStyle: { color: "#000", width: 3 } },
      axisLabel: {
        show: si === 0, customValues: majors, formatter: fmt, color: "#000",
        fontSize: 37, fontFamily: FONT, margin: labelMargin,
      },
      splitLine: { show: false },
      ...(si === 0 && nameCfg ? nameCfg : {}),
    });
    list.push({
      type: "value", gridIndex, min, max, position: pos, z: 5,
      axisLine: { show: false, onZero: false },
      axisTick: { show: true, inside: true, length: 12, customValues: minors, lineStyle: { color: "#000", width: 3 } },
      axisLabel: { show: false },
      splitLine: { show: false },
    });
  });
  return first;
}

function buildOption() {
  const grid: any[] = [];
  const xAxis: any[] = [];
  const yAxis: any[] = [];
  const series: any[] = [];
  const graphic: any[] = [];

  const timeMajors = [0, 5, 10, 15, 20, 25];
  const timeMinors: number[] = [];
  for (let t = 1; t < TIME_MAX; t++) if (t % 5 !== 0) timeMinors.push(t);

  for (let p = 0; p < 4; p++) {
    // ---- light curve panel ----
    const g = grid.length;
    grid.push({ left: LC_LEFT, top: PANEL_TOP[p], width: LC_W, height: PANEL_H, show: false });
    const xi = addAxes(xAxis, "x", g, 0, TIME_MAX, timeMajors, timeMinors, (v) => String(v),
      p === 3 ? { name: "Time [ks]", nameLocation: "middle", nameGap: 57, nameTextStyle: nameStyle } : null, 9);
    const yMaj = [1, 2].filter((v) => v < rateMax[p]);
    const yMin: number[] = [];
    for (let i = 2; i * 0.2 < rateMax[p] - 1e-6; i++) if (i % 5 !== 0) yMin.push(Math.round(i * 2) / 10);
    const yi = addAxes(yAxis, "y", g, RATE_MIN, rateMax[p], yMaj, yMin, (v) => String(v),
      { name: "Rate [2-10 keV]", nameLocation: "middle", nameGap: 45, nameRotate: 90, nameTextStyle: nameStyle }, 18);

    const lc = lightCurves[p];
    const err = rateErrors[p];
    // shaded 1-sigma band, drawn as one polygon through the axis scales
    series.push({
      type: "custom", xAxisIndex: xi, yAxisIndex: yi, silent: true, z: 1, clip: true,
      encode: { x: 0, y: [1, 2] },
      data: lc.map(([t, r]) => [t, r - err, r + err]),
      renderItem: (params: any, api: any) => {
        if (params.dataIndex !== 0) return null;
        const upper = lc.map(([t, r]) => api.coord([t, r + err]));
        const lower = lc.map(([t, r]) => api.coord([t, r - err])).reverse();
        return {
          type: "polygon",
          shape: { points: upper.concat(lower) },
          style: { fill: BAND, stroke: BAND, lineWidth: 1 },
        };
      },
    });
    const cut = cutTimes[p];
    series.push({
      type: "line", xAxisIndex: xi, yAxisIndex: yi, symbol: "none", silent: true, z: 2,
      data: lc, lineStyle: { color: PURPLE, width: 3.6, join: "round" },
      markLine: cut == null ? undefined : {
        symbol: ["none", "none"], silent: true, label: { show: false },
        lineStyle: { color: "#000", width: 4.5, type: [16, 8] }, data: [{ xAxis: cut }],
      },
    });

    // ---- power spectrum panel ----
    const g2 = grid.length;
    grid.push({ left: PSD_LEFT, top: PANEL_TOP[p], width: PSD_W, height: PANEL_H, show: false });
    const lx = [Math.log10(FREQ_MIN), Math.log10(FREQ_MAX)];
    const ly = [Math.log10(powerMin[p]), Math.log10(powerMax[p])];
    const xt = logTicks(lx[0], lx[1]);
    const yt = logTicks(ly[0], ly[1]);
    const pxi = addAxes(xAxis, "x", g2, lx[0], lx[1], xt.major, xt.minor, pow10Label,
      p === 3 ? { name: "Frequency [Hz]", nameLocation: "middle", nameGap: 57, nameTextStyle: nameStyle } : null, 12);
    const pyi = addAxes(yAxis, "y", g2, ly[0], ly[1], yt.major, yt.minor, pow10Label,
      { name: "Power", nameLocation: "middle", nameGap: 94, nameRotate: 90, nameTextStyle: nameStyle }, 18);

    const pw = powers[p];
    const freqs = pw.map((_, k) => psdStartHz[p] + k * psdStepHz[p]);
    const edges: number[] = [freqs[0] - (freqs[1] - freqs[0]) / 2];
    for (let k = 1; k < freqs.length; k++) edges.push((freqs[k - 1] + freqs[k]) / 2);
    edges.push(freqs[freqs.length - 1] + (freqs[freqs.length - 1] - freqs[freqs.length - 2]) / 2);
    const stepData: number[][] = [];
    pw.forEach((P, k) => {
      stepData.push([Math.log10(edges[k]), Math.log10(P)]);
      stepData.push([Math.log10(edges[k + 1]), Math.log10(P)]);
    });
    series.push({
      type: "line", xAxisIndex: pxi, yAxisIndex: pyi, symbol: "none", silent: true, z: 2,
      data: stepData, lineStyle: { color: PURPLE, width: 3.2 },
      markLine: {
        symbol: ["none", "none"], silent: true, label: { show: false },
        lineStyle: { color: QPO_COLOR, width: 4, type: [18, 9] },
        data: [{ xAxis: Math.log10(qpoMHz[p] * 1e-3) }],
      },
    });
    const errs = powerErrors[p];
    series.push({
      type: "custom", xAxisIndex: pxi, yAxisIndex: pyi, silent: true, z: 2, clip: true,
      encode: { x: 0, y: [1, 2] },
      data: pw.map((P, k) => {
        const e = k < errs.length ? errs[k] : P * PSD_REL_ERR;
        return [Math.log10(freqs[k]), Math.log10(Math.max(P - e, 1e-3)), Math.log10(P + e)];
      }),
      renderItem: (_params: any, api: any) => {
        const x = api.value(0);
        const a = api.coord([x, api.value(1)]);
        const b = api.coord([x, api.value(2)]);
        return {
          type: "line",
          shape: { x1: a[0], y1: a[1], x2: b[0], y2: b[1] },
          style: { stroke: PURPLE, lineWidth: 3 },
        };
      },
    });

    // ---- annotations ----
    graphic.push({
      type: "text", x: 159, y: PANEL_TOP[p] + 35, z: 50,
      style: {
        text: epochNames[p], fontSize: 47, fontFamily: FONT, fill: "#111",
        align: "left", verticalAlign: "top", textAlign: "left", textVerticalAlign: "top",
        lineHeight: 49, backgroundColor: "#fff", borderColor: "#000", borderWidth: 3.5, padding: [18, 22],
      },
    });
    graphic.push({
      type: "text", x: 2166, y: PANEL_TOP[p] + 339, z: 50,
      style: {
        text: `{nu|\u03bd}{sub|QPO}{val| = ${qpoMHz[p].toFixed(2)} mHz}`,
        align: "left", verticalAlign: "top", textAlign: "left", textVerticalAlign: "top",
        backgroundColor: "#fff", borderColor: "#000", borderWidth: 3.5, padding: [19, 22],
        rich: {
          nu: { fontSize: 32, fontFamily: FONT, fontStyle: "italic", lineHeight: 40, fill: "#111" },
          sub: { fontSize: 22, fontFamily: FONT, lineHeight: 20, verticalAlign: "bottom", fill: "#111" },
          val: { fontSize: 32, fontFamily: FONT, lineHeight: 40, fill: "#111" },
        },
      },
    });
    graphic.push({
      type: "text", x: HEAD_X[p], y: HEAD_BASELINE[p] - 0.347 * HEAD_SIZE[p], z: 60,
      scaleX: HEAD_STRETCH[p],
      style: {
        text: headlines[p], fontSize: HEAD_SIZE[p], lineHeight: 88, fontWeight: "bold", fontFamily: BOLD_FONT, fill: "#000",
        align: "left", verticalAlign: "middle", textAlign: "left", textVerticalAlign: "middle",
      },
    });
  }

  return {
    animation: false,
    backgroundColor: "#fff",
    grid, xAxis, yAxis, series, graphic,
  };
}

export default function App() {
  const ref = useRef<HTMLDivElement>(null);
  useEffect(() => {
    document.body.style.margin = "0";
    if (!ref.current) return;
    const chart = echarts.init(ref.current, undefined, { renderer: "svg", width: W, height: H });
    chart.setOption(buildOption() as any);
    return () => chart.dispose();
  }, []);
  return <div ref={ref} style={{ width: W, height: H, background: "#fff" }} />;
}
